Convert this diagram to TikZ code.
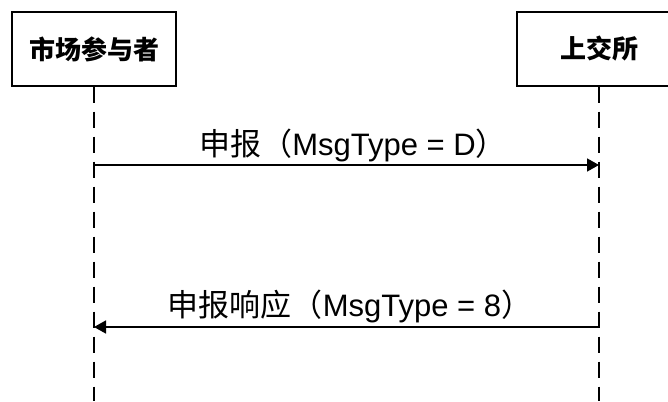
\documentclass[tikz,border=0pt]{standalone}
\usepackage{fontspec}
\setmainfont{Liberation Sans}
\newfontfamily\cjk{Noto Sans CJK SC}
\usetikzlibrary{arrows.meta}
\begin{document}
\begin{tikzpicture}[x=1pt,y=-1pt,
  actor/.style={draw, line width=1.2pt, minimum width=164pt, minimum height=74pt, inner sep=0pt, font=\fontsize{26}{30}\selectfont\bfseries},
  life/.style={line width=1.6pt, dash pattern=on 16pt off 9pt},
  msg/.style={line width=1.6pt, -{Triangle[length=12pt,width=13pt]}},
  lbl/.style={font=\fontsize{31}{35}\selectfont, inner sep=0pt}]
\useasboundingbox (0,0) rectangle (668,401);
\clip (0,0) rectangle (668,401);
\node[actor] (A) at (94,49) {\cjk 市场参与者};
\node[actor] (B) at (599,49) {\cjk 上交所};
\coordinate (Aend) at (94,401);
\coordinate (Bend) at (599,401);
\draw[life] (A.south) -- (Aend);
\draw[life] (B.south) -- (Bend);
\coordinate (a1) at (94,165);
\coordinate (b1) at (599,165);
\coordinate (a2) at (94,327);
\coordinate (b2) at (599,327);
\draw[msg] (a1) -- (b1);
\draw[msg] (b2) -- (a2);
\node[lbl] (m1) at (353,145) {{\cjk 申报（}MsgType = D{\cjk ）}};
\node[lbl] (m2) at (350,306) {{\cjk 申报响应（}MsgType = 8{\cjk ）}};
\end{tikzpicture}
\end{document}
